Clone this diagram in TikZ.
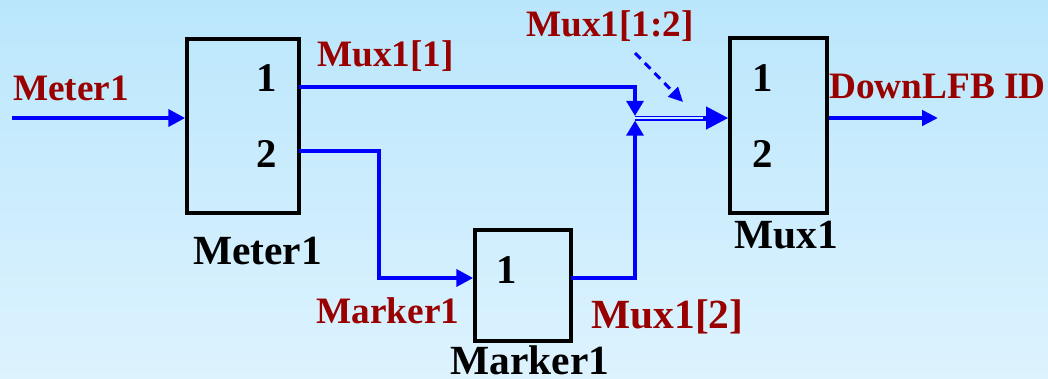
\documentclass[tikz,border=0pt]{standalone}
\usepackage{fontspec}
\setmainfont{Liberation Serif}
\usepackage{xcolor}
\usepackage{tikz}
\usetikzlibrary{arrows.meta,positioning,calc}
\definecolor{cWire}{HTML}{0000FF}
\definecolor{cSig}{HTML}{990000}
\definecolor{cInk}{HTML}{000000}
\definecolor{cTop}{HTML}{BAE6FC}
\definecolor{cBot}{HTML}{DDF3FE}
\tikzset{
  blk/.style={draw=cInk,line width=0.09cm,inner sep=0pt,minimum width=#1},
  port/.style={anchor=base,inner sep=0pt,text=cInk,font=\fontsize{29}{32}\selectfont\bfseries},
  bname/.style={anchor=base,inner sep=0pt,text=cInk,font=\fontsize{29.5}{32}\selectfont\bfseries},
  sig/.style={anchor=base,inner sep=0pt,text=cSig,font=\fontsize{26.5}{30}\selectfont\bfseries},
  wire/.style={draw=cWire,line width=0.1cm},
  arr/.style={wire,-{Triangle[length=0.42cm,width=0.42cm]}},
  dbl/.style={draw=cWire,line width=0.04cm,double=cTop!60!cBot,double distance=0.045cm},
}

\begin{document}
\begin{tikzpicture}[x=0.025cm,y=-0.025cm]
    \useasboundingbox (0,0) rectangle (1048,378);
    \shade[top color=cTop,bottom color=cBot] (0,0) rectangle (1048,378);
    % blocks
    \node[blk=2.8cm,minimum height=4.35cm] (meter) at (243,126) {};
    \node[blk=2.4cm,minimum height=2.775cm] (marker) at (523,285.5) {};
    \node[blk=2.425cm,minimum height=4.375cm] (mux) at (778.5,125.5) {};
    \node[port] (m1) at (267,91) {1};
    \node[port] (m2) at (267,167) {2};
    \node[port] (k1) at (507,283) {1};
    \node[port] (x1) at (763,91) {1};
    \node[port] (x2) at (763,167) {2};
    \node[bname] (meterL) at (257.5,264) {Meter1};
    \node[bname] (markerL) at (530,374) {Marker1};
    \node[bname] (muxL) at (786,248) {Mux1};
    % signal names
    \node[sig] (sIn) at (71,100) {Meter1};
    \node[sig] (sOne) at (385.5,66) {Mux1[1]};
    \node[sig] (sBoth) at (610,36) {Mux1[1:2]};
    \node[sig] (sOut) at (937.5,98) {DownLFB ID};
    \node[sig] (sMark) at (388,323) {Marker1};
    \node[sig,font=\fontsize{29.5}{32}\selectfont\bfseries] (sTwo) at (667.5,328) {Mux1[2]};
    % wire points
    \coordinate (in) at (12,118);
    \coordinate (p1) at (299,87);
    \coordinate (p2) at (299,151);
    \coordinate (bend) at (379,278);
    \coordinate (mk) at (571,278);
    \coordinate (jn) at (635,118);
    \coordinate (jt) at (635,116);
    \coordinate (jb) at (635,120.5);
    \coordinate (out) at (938,118);
    \coordinate (d1) at (635,53);
    \coordinate (d2) at (683,102);
    % wires
    \draw[arr] (in) -- (in -| meter.west);
    \draw[arr,-{Triangle[length=0.38cm,width=0.42cm]}] (p1) -| (jt);
    \draw[arr] (p2) -| (bend) -- (bend -| marker.west);
    \draw[arr,-{Triangle[length=0.38cm,width=0.42cm]}] (mk) -| (jb);
    \draw[dbl] (jn) -- ([xshift=-0.5cm]jn -| mux.west);
    \draw[wire,-{Triangle[length=0.55cm,width=0.55cm]}] ([xshift=-0.62cm]jn -| mux.west) -- (jn -| mux.west);
    \draw[arr,-{Triangle[length=0.4cm,width=0.38cm]}] (mux.east |- jn) -- (out);
    \draw[wire,line width=0.075cm,dash pattern=on 0.2cm off 0.15cm,-{Triangle[length=0.36cm,width=0.34cm]}] (d1) -- (d2);
\end{tikzpicture}
\end{document}
